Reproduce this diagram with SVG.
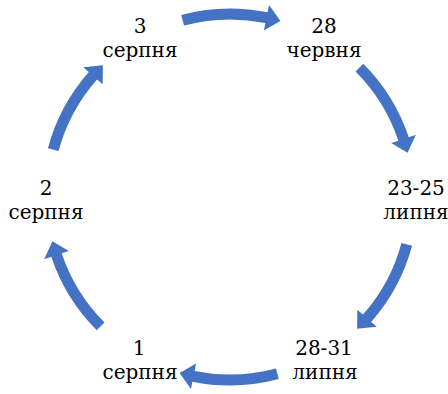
<svg xmlns="http://www.w3.org/2000/svg" xmlns:xlink="http://www.w3.org/1999/xlink" width="448" height="394" viewBox="0 0 448 394">
<style>
.lbl{font-family:'DejaVu Serif',serif;font-size:20px;fill:#000;text-anchor:middle}
.arr{fill:#4472C4}
</style>
<defs>
<path id="arc" class="arr" d="M181.21,14.92 A188.5,188.5 0 0 1 267.59,12.29 L269.08,4.94 L280.43,21.08 L263.90,30.42 L265.39,23.07 A177.5,177.5 0 0 0 184.06,25.55 Z"/>
</defs>
<rect width="448" height="394" fill="#fff"/>
<g id="connectors">
<use xlink:href="#arc"/>
<use xlink:href="#arc" transform="rotate(60 230 197)"/>
<use xlink:href="#arc" transform="rotate(120 230 197)"/>
<use xlink:href="#arc" transform="rotate(180 230 197)"/>
<use xlink:href="#arc" transform="rotate(240 230 197)"/>
<use xlink:href="#arc" transform="rotate(300 230 197)"/>
</g>
<g id="n1"><text class="lbl" x="140" y="33">3</text><text class="lbl" x="140" y="57">серпня</text></g>
<g id="n2"><text class="lbl" x="324" y="33">28</text><text class="lbl" x="324" y="57">червня</text></g>
<g id="n3"><text class="lbl" x="416" y="195">23-25</text><text class="lbl" x="416" y="219">липня</text></g>
<g id="n4"><text class="lbl" x="324" y="355">28-31</text><text class="lbl" x="325" y="379">липня</text></g>
<g id="n5"><text class="lbl" x="139" y="355">1</text><text class="lbl" x="140" y="379">серпня</text></g>
<g id="n6"><text class="lbl" x="46" y="195">2</text><text class="lbl" x="46" y="219">серпня</text></g>
</svg>
